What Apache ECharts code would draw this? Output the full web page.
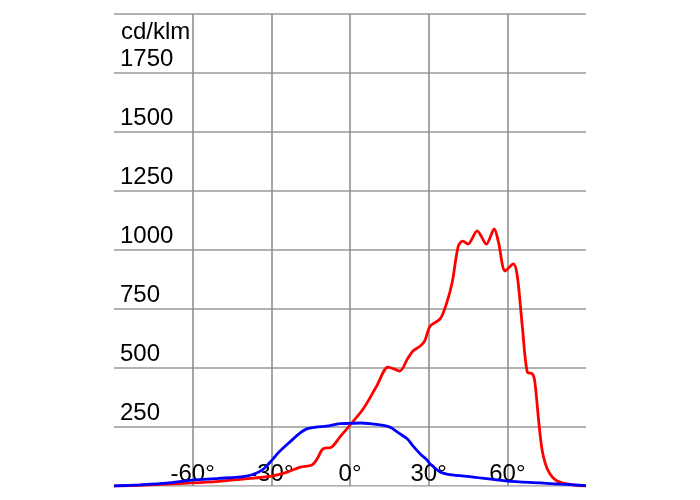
<!DOCTYPE html>
<html>
<head>
<meta charset="utf-8">
<script src="https://cdn.jsdelivr.net/npm/echarts@6/dist/echarts.min.js"></script>
<style>html,body{margin:0;padding:0;background:#fff}#c{width:700px;height:500px}</style>
</head>
<body>
<div id="c"></div>
<script>
var redAngles = [-90,-83,-70,-60,-50,-40,-30,-24,-19,-14.5,-12.6,-10.3,-7,-3.8,0,5,10.2,14.5,17,19,22,24,26.8,28.5,30.6,34.4,37,39,41.3,43,45,48.5,52,55,56.6,59.2,62.3,63.8,65.7,67.6,69.6,70.5,72,73.4,75.6,79,85,90];
var redValues = [0,2,8,13,20,30,42,59,80,89,114,157,165,208,258,326,424,504,495,487,540,572,593,615,678,708,780,864,1017,1038,1025,1081,1025,1089,1034,911,941,890,678,483,475,440,271,144,64,21,5,0];
var blueAngles = [-90,-80,-70,-60,-50,-39.4,-35.6,-33,-29.4,-27,-23,-19,-16.5,-13,-8.9,-3.8,0,3.8,9,14,16,18,21.8,24,26.8,29.4,30.6,34.4,38,47,60,72.6,80,85,90];
var blueValues = [0,5,12,25,32,42,55,72,114,145,186,225,242,249,254,264,265,267,262,254,245,229,200,170,136,110,93,59,48,38,21,13,8,5,2];
var xTicks = [-90,-60,-30,0,30,60,90];
var yTicks = [0,250,500,750,1000,1250,1500,1750,2000];

function zip(a,b){return a.map(function(v,i){return [v,b[i]];});}
var FONT = 'Arial, "Liberation Sans", sans-serif';

var chart = echarts.init(document.getElementById('c'));
chart.setOption({
  animation:false,
  backgroundColor:'#fff',
  textStyle:{fontFamily:FONT},
  title:{text:'cd/klm',left:116,top:15,textStyle:{fontSize:24,fontWeight:'normal',color:'#000',fontFamily:FONT}},
  grid:{left:114,right:114,top:14,bottom:14},
  xAxis:{type:'value',min:xTicks[0],max:xTicks[xTicks.length-1],interval:30,
    axisLine:{show:true,lineStyle:{color:'#ccc',width:1}},axisTick:{show:false},
    axisLabel:{inside:true,margin:0,fontSize:24,color:'#000',showMinLabel:false,showMaxLabel:false,
      formatter:function(v){return String(v)+'°';},fontFamily:FONT},
    splitLine:{show:true,showMinLine:false,showMaxLine:false,lineStyle:{color:'#888',width:1.5}}},
  yAxis:{type:'value',min:yTicks[0],max:yTicks[yTicks.length-1],interval:250,
    axisLine:{show:false},axisTick:{show:false},
    axisLabel:{inside:true,margin:6,fontSize:24,color:'#000',verticalAlign:'bottom',padding:[0,0,2,0],
      showMinLabel:false,showMaxLabel:false,formatter:function(v){return String(v);},fontFamily:FONT},
    splitLine:{show:true,lineStyle:{color:'#999',width:1.5}}},
  series:[
    {type:'line',data:zip(redAngles,redValues),smooth:0.3,symbol:'none',lineStyle:{color:'#ff0000',width:2.8},z:3},
    {type:'line',data:zip(blueAngles,blueValues),smooth:0.3,symbol:'none',lineStyle:{color:'#0000ff',width:2.8},z:4}
  ]
});
</script>
</body>
</html>
